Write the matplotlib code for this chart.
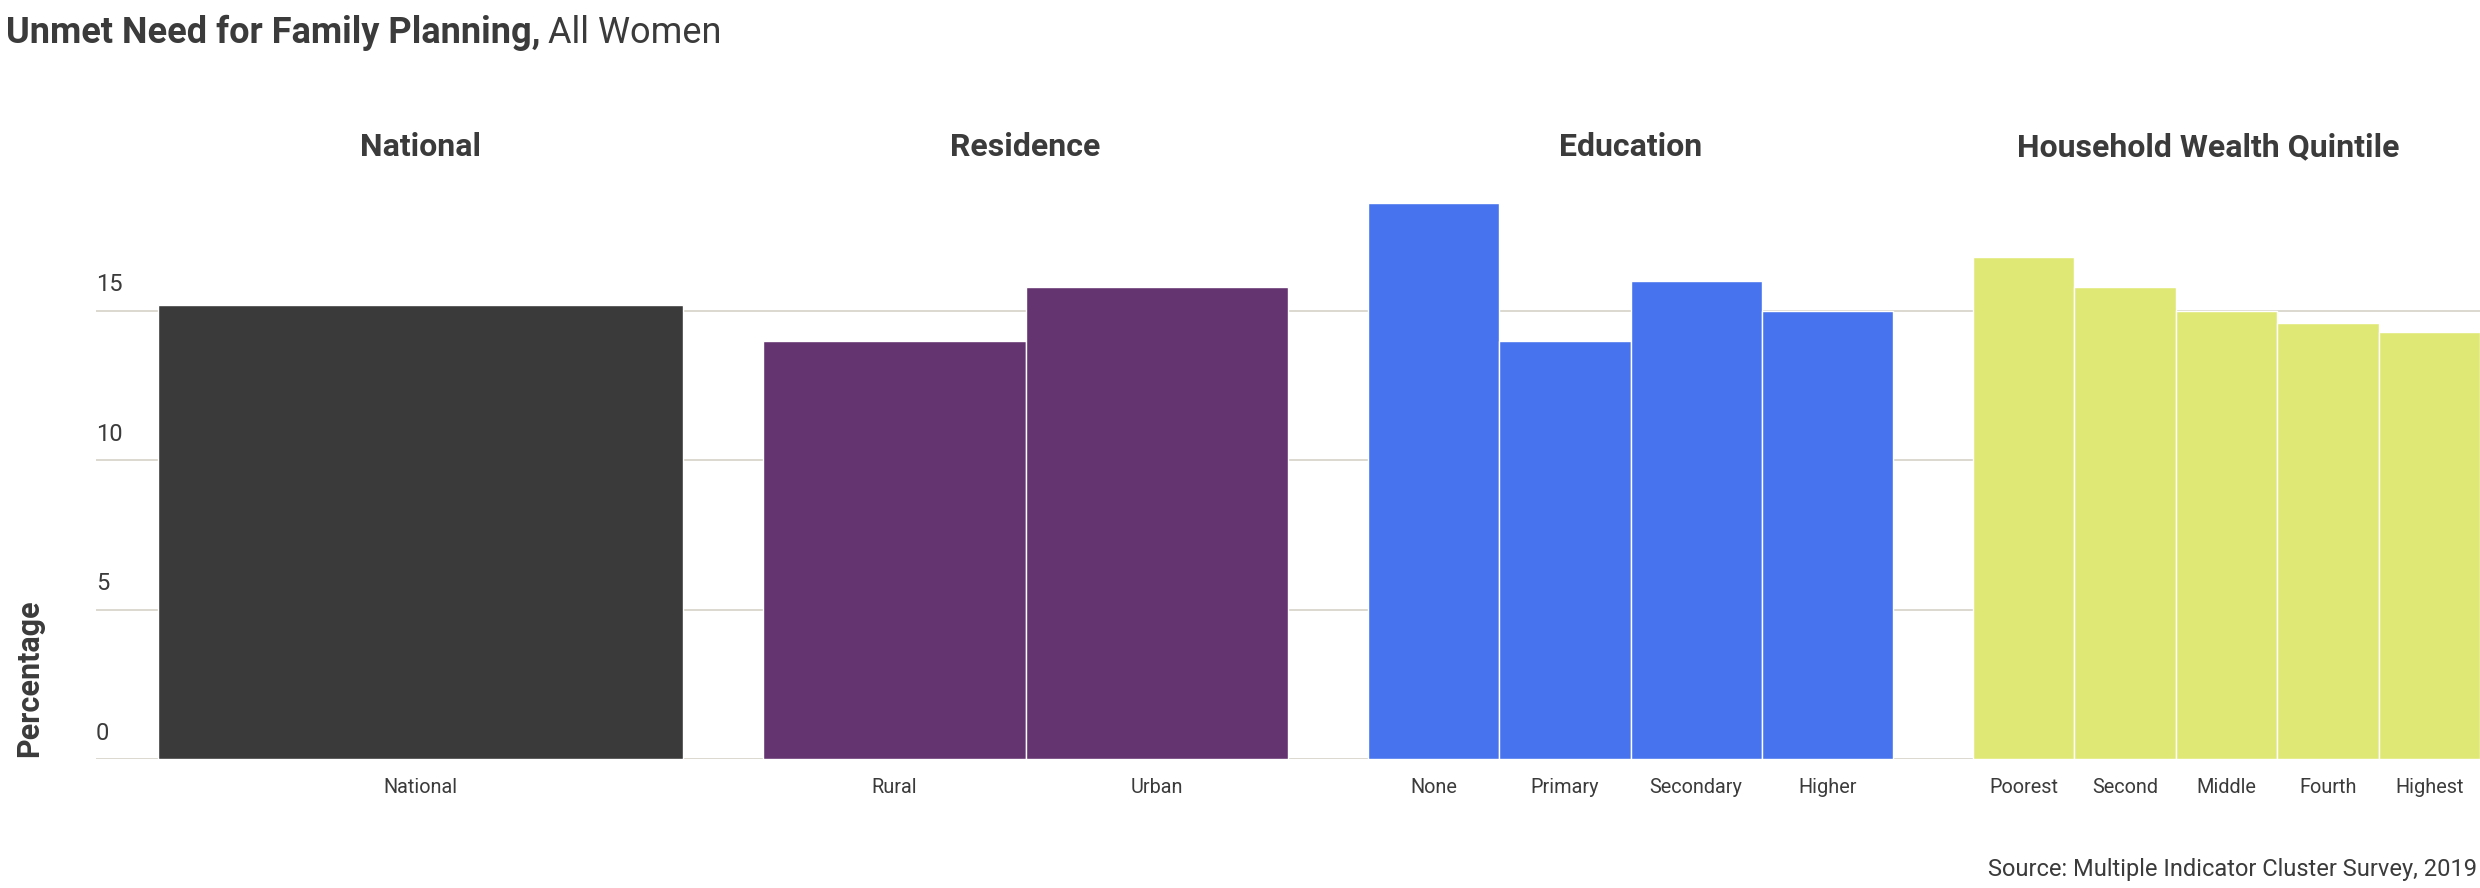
import matplotlib
matplotlib.use("Agg")
import matplotlib.pyplot as plt
import matplotlib.transforms as mtransforms

plt.rcParams['font.family'] = ['Roboto', 'DejaVu Sans']

# data
groups = ["National", "Residence", "Education", "Household Wealth Quintile"]
national_labels = ["National"]
national_values = [15.2]
residence_labels = ["Rural", "Urban"]
residence_values = [14.0, 15.8]
education_labels = ["None", "Primary", "Secondary", "Higher"]
education_values = [18.6, 14.0, 16.0, 15.0]
wealth_labels = ["Poorest", "Second", "Middle", "Fourth", "Highest"]
wealth_values = [16.8, 15.8, 15.0, 14.6, 14.3]
yticks = [0, 5, 10, 15]

colors = ["#3a3a3a", "#643471", "#4873ee", "#e0e875"]
text_col = "#3b3b3b"
grid_col = "#dcd8cf"

W, H = 2480, 888
fig = plt.figure(figsize=(W / 100, H / 100), dpi=100)
ax = fig.add_axes([96 / W, 128.7 / H, (W - 96) / W, 568 / H])

labels_all = [national_labels, residence_labels, education_labels, wealth_labels]
values_all = [national_values, residence_values, education_values, wealth_values]

gap = 80 / 525
panel_w = [1, 1, 1, 0.966]
title_w = [1, 1, 1, 0.895]   # last facet title sits left of the bar span's centre
ticks, ticklabels = [], []
title_x = []
for i, (labs, vals) in enumerate(zip(labels_all, values_all)):
    start = i * (1 + gap)
    bw = panel_w[i] / len(vals)
    xs = [start + (j + 0.5) * bw for j in range(len(vals))]
    ax.bar(xs, vals, width=bw, color=colors[i], edgecolor="white", linewidth=1.0, zorder=3)
    ticks += xs
    ticklabels += labs
    title_x.append(start + title_w[i] / 2)

ax.set_xlim(-62 / 525, (W - 158) / 525)
ax.set_ylim(0, 19)
ax.set_xticks(ticks)
ax.set_xticklabels(ticklabels, fontsize=14.3, color=text_col)
ax.tick_params(axis="x", length=0, pad=13.8)
ax.set_yticks([])
for s in ax.spines.values():
    s.set_visible(False)

for v in yticks:
    ax.axhline(v, color=grid_col, linewidth=1.4, zorder=1)
    ax.annotate(str(v), xy=(0, v), xycoords=mtransforms.blended_transform_factory(ax.transAxes, ax.transData),
                xytext=(0, 14), textcoords="offset points", ha="left", va="baseline",
                fontsize=17, color=text_col)

# facet titles
tr = mtransforms.blended_transform_factory(ax.transData, fig.transFigure)
for g, x in zip(groups, title_x):
    ax.text(x, 1 - 147 / H, g, transform=tr, ha="center", va="center",
            fontsize=23, fontweight="bold", color=text_col)

# title with bold + regular parts
t1 = fig.text(6 / W, 1 - 43 / H, "Unmet Need for Family Planning,", fontsize=26,
              fontweight="bold", color=text_col, va="baseline", ha="left")
fig.canvas.draw()
bb = t1.get_window_extent()
fig.text((bb.x1 + 7) / W, 1 - 43 / H, "All Women", fontsize=26, color=text_col,
         va="baseline", ha="left")

fig.text(29 / W, (H - 757) / H, "Percentage", rotation=90, ha="center", va="bottom",
         fontsize=22, fontweight="bold", color=text_col)

fig.text(2477 / W, 12 / H, "Source: Multiple Indicator Cluster Survey, 2019", ha="right",
         va="baseline", fontsize=17, color=text_col)

fig.savefig("out.png", dpi=100)
